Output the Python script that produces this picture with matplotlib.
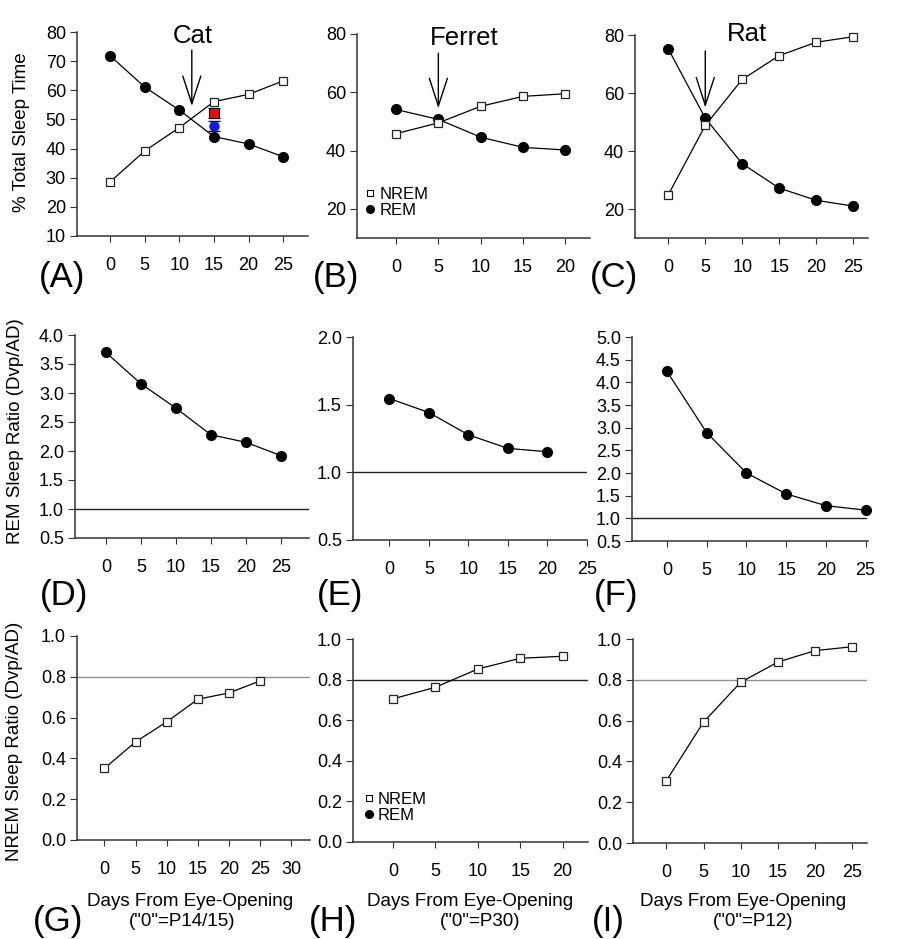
import matplotlib
matplotlib.use('Agg')
import matplotlib.pyplot as plt
from matplotlib.lines import Line2D

plt.rcParams['font.family'] = ['Liberation Sans', 'DejaVu Sans']

FIG_W, FIG_H = 900, 939

# --- datos: % del tiempo total de sueño (fila superior) ---
cat_days = [0, 5, 10, 15, 20, 25]
cat_nrem = [28.6, 39.2, 47.2, 56.1, 58.6, 63.2]
cat_rem = [71.8, 61.1, 53.2, 44.1, 41.6, 37.2]
cat_adult_day = [15]
cat_adult_nrem = [52.1]
cat_adult_rem = [47.7]
cat_adult_err = [1.7]

ferret_days = [0, 5, 10, 15, 20]
ferret_nrem = [45.8, 49.5, 55.2, 58.6, 59.5]
ferret_rem = [54.1, 50.7, 44.6, 41.1, 40.2]

rat_days = [0, 5, 10, 15, 20, 25]
rat_nrem = [24.9, 48.8, 64.7, 72.9, 77.5, 79.4]
rat_rem = [75.2, 51.3, 35.6, 27.2, 23.0, 21.0]

# --- ratios desarrollo / adulto ---
cat_rem_ratio = [3.70, 3.16, 2.74, 2.28, 2.15, 1.92]
ferret_rem_ratio = [1.545, 1.442, 1.277, 1.177, 1.152]
rat_rem_ratio = [4.24, 2.89, 2.0, 1.54, 1.28, 1.18]

cat_nrem_ratio = [0.351, 0.481, 0.579, 0.690, 0.721, 0.780]
ferret_nrem_ratio = [0.705, 0.762, 0.852, 0.905, 0.915]
rat_nrem_ratio = [0.306, 0.593, 0.788, 0.887, 0.943, 0.962]

species = ['Cat', 'Ferret', 'Rat']
panel_letters = ['(A)', '(B)', '(C)', '(D)', '(E)', '(F)', '(G)', '(H)', '(I)']
eye_opening = ['("0"=P14/15)', '("0"=P30)', '("0"=P12)']
arrow_day = [11.8, 5, 5]

fig = plt.figure(figsize=(FIG_W / 100, FIG_H / 100), dpi=100)


"""Crea un eje a partir de una caja en pixeles (izq, arriba, der, abajo)."""
def make_axes(l, t, r, b):
    ax = fig.add_axes([l / FIG_W, 1 - b / FIG_H, (r - l) / FIG_W, (b - t) / FIG_H])
    for side in ('top', 'right'):
        ax.spines[side].set_visible(False)
    for side in ('left', 'bottom'):
        ax.spines[side].set_color('#333333')
        ax.spines[side].set_linewidth(1.1)
    ax.tick_params(axis='x', length=4, pad=11, labelsize=13, color='#333333')
    ax.tick_params(axis='y', length=5, pad=3, labelsize=13, color='#333333')
    return ax


def fig_text(x, y, s, **kw):
    fig.text(x / FIG_W, 1 - y / FIG_H, s, **kw)


def plot_rem(ax, x, y, ms=7):
    ax.plot(x, y, '-o', color='black', lw=0.9, ms=ms, mfc='black', mec='black',
            zorder=3, clip_on=False)


def plot_nrem(ax, x, y, ms=6.3):
    ax.plot(x, y, '-s', color='black', lw=0.9, ms=ms, mfc='white', mec='#222222',
            mew=0.9, zorder=4, clip_on=False)


def arrow(ax, x, y0, y1):
    ax.annotate('', xy=(x, y1), xytext=(x, y0),
                arrowprops=dict(arrowstyle='->,head_length=2.0,head_width=0.65',
                                lw=1.0, color='black', shrinkA=0, shrinkB=0,
                                mutation_scale=10))


def legend(ax, left, top):
    handles = [Line2D([], [], ls='none', marker='s', ms=5, mfc='white', mec='black', mew=0.8),
               Line2D([], [], ls='none', marker='o', ms=5.5, mfc='black', mec='black')]
    ax.legend(handles, ['NREM', 'REM'], loc='upper left', bbox_to_anchor=(left, top),
              frameon=False, fontsize=12, handlelength=0.6, handletextpad=0.25,
              labelspacing=0.05, borderpad=0, borderaxespad=0)


# ---------------- fila 1 ----------------
axA = make_axes(77, 32, 308, 236)
plot_nrem(axA, cat_days, cat_nrem)
plot_rem(axA, cat_days, cat_rem)
axA.errorbar(cat_adult_day, cat_adult_nrem, yerr=cat_adult_err, fmt='s', ms=6.5,
             mfc='#e01010', mec='black', mew=0.8, ecolor='black', elinewidth=1,
             capsize=4.5, zorder=6)
axA.errorbar(cat_adult_day, cat_adult_rem, yerr=cat_adult_err, fmt='o', ms=6.5,
             mfc='#1818e0', mec='#1818e0', ecolor='black', elinewidth=1,
             capsize=4.5, zorder=5)
axA.set_xlim(-4.8, 28.6)
axA.set_ylim(10, 80)
axA.set_yticks(range(10, 81, 10))
axA.set_xticks(cat_days)
arrow(axA, arrow_day[0], 73.8, 54.6)
axA.text(12, 78.6, species[0], ha='center', va='center', fontsize=18.5)

axB = make_axes(357, 34, 590, 238)
plot_nrem(axB, ferret_days, ferret_nrem)
plot_rem(axB, ferret_days, ferret_rem)
axB.set_xlim(-4.6, 22.9)
axB.set_ylim(10, 80)
axB.set_yticks([20, 40, 60, 80])
axB.set_xticks(ferret_days)
arrow(axB, arrow_day[1], 73.4, 54.5)
axB.text(8, 78.6, species[1], ha='center', va='center', fontsize=18.5)
legend(axB, 0.035, 0.25)

axC = make_axes(635, 35, 868, 238)
plot_nrem(axC, rat_days, rat_nrem)
plot_rem(axC, rat_days, rat_rem)
axC.set_xlim(-4.5, 27)
axC.set_ylim(10, 80)
axC.set_yticks([20, 40, 60, 80])
axC.set_xticks(rat_days)
arrow(axC, arrow_day[2], 74.5, 55)
axC.text(10.6, 80.2, species[2], ha='center', va='center', fontsize=18.5)

# ---------------- fila 2 ----------------
axD = make_axes(75, 335, 309, 538)
axD.axhline(1.0, color='#222222', lw=1)
plot_rem(axD, cat_days, cat_rem_ratio)
axD.set_xlim(-4.4, 29)
axD.set_ylim(0.5, 4.0)
axD.set_xticks(cat_days)

axE = make_axes(353, 337, 587, 540)
axE.axhline(1.0, color='#222222', lw=1)
plot_rem(axE, ferret_days, ferret_rem_ratio)
axE.set_xlim(-4.6, 25)
axE.set_ylim(0.5, 2.0)
axE.set_xticks(range(0, 26, 5))

axF = make_axes(632, 337, 868, 541)
axF.axhline(1.0, xmax=0.99, color='#222222', lw=1)
plot_rem(axF, rat_days, rat_rem_ratio)
axF.set_xlim(-4.4, 25.3)
axF.set_ylim(0.5, 5.0)
axF.set_xticks(rat_days)

for ax, top in ((axD, 4.0), (axE, 2.0), (axF, 5.0)):
    ticks = [0.5 + 0.5 * i for i in range(int(round((top - 0.5) / 0.5)) + 1)]
    ax.set_yticks(ticks)
    ax.set_yticklabels([f'{t:.1f}' for t in ticks])

# ---------------- fila 3 ----------------
axG = make_axes(77, 636, 310, 840)
axG.axhline(0.8, color='#909090', lw=1)
plot_nrem(axG, cat_days, cat_nrem_ratio)
axG.set_xlim(-4.4, 33)
axG.set_xticks(range(0, 31, 5))

axH = make_axes(353, 639, 588, 842)
axH.axhline(0.8, color='#222222', lw=1)
plot_nrem(axH, ferret_days, ferret_nrem_ratio)
axH.set_xlim(-4.7, 23)
axH.set_xticks(ferret_days)
legend(axH, 0.045, 0.245)

axI = make_axes(633, 639, 867, 843)
axI.axhline(0.8, color='#909090', lw=1)
plot_nrem(axI, rat_days, rat_nrem_ratio)
axI.set_xlim(-4.5, 27)
axI.set_xticks(rat_days)

for ax in (axG, axH, axI):
    ax.set_ylim(0, 1.0)
    ticks = [0.0, 0.2, 0.4, 0.6, 0.8, 1.0]
    ax.set_yticks(ticks)
    ax.set_yticklabels([f'{t:.1f}' for t in ticks])

# ---------------- textos ----------------
fig_text(22, 132, '% Total Sleep Time', rotation=90, ha='center', va='center', fontsize=13.5)
fig_text(16, 431, 'REM Sleep Ratio (Dvp/AD)', rotation=90, ha='center', va='center', fontsize=13.5)
fig_text(15, 741, 'NREM Sleep Ratio (Dvp/AD)', rotation=90, ha='center', va='center', fontsize=13.5)

label_pos = [(62, 277), (336, 277), (614, 277),
             (64, 595), (340, 595), (616, 595),
             (58, 921), (333, 921), (608, 921)]
for (x, y), s in zip(label_pos, panel_letters):
    fig_text(x, y, s, ha='center', va='center', fontsize=25)

days_pos = [(190, 182), (470, 480), (743, 753)]
for (x1, x2), s in zip(days_pos, eye_opening):
    fig_text(x1, 902, 'Days From Eye-Opening', ha='center', va='center', fontsize=13.5)
    fig_text(x2, 921, s, ha='center', va='center', fontsize=13.5)

fig.savefig('out.png', dpi=100)
